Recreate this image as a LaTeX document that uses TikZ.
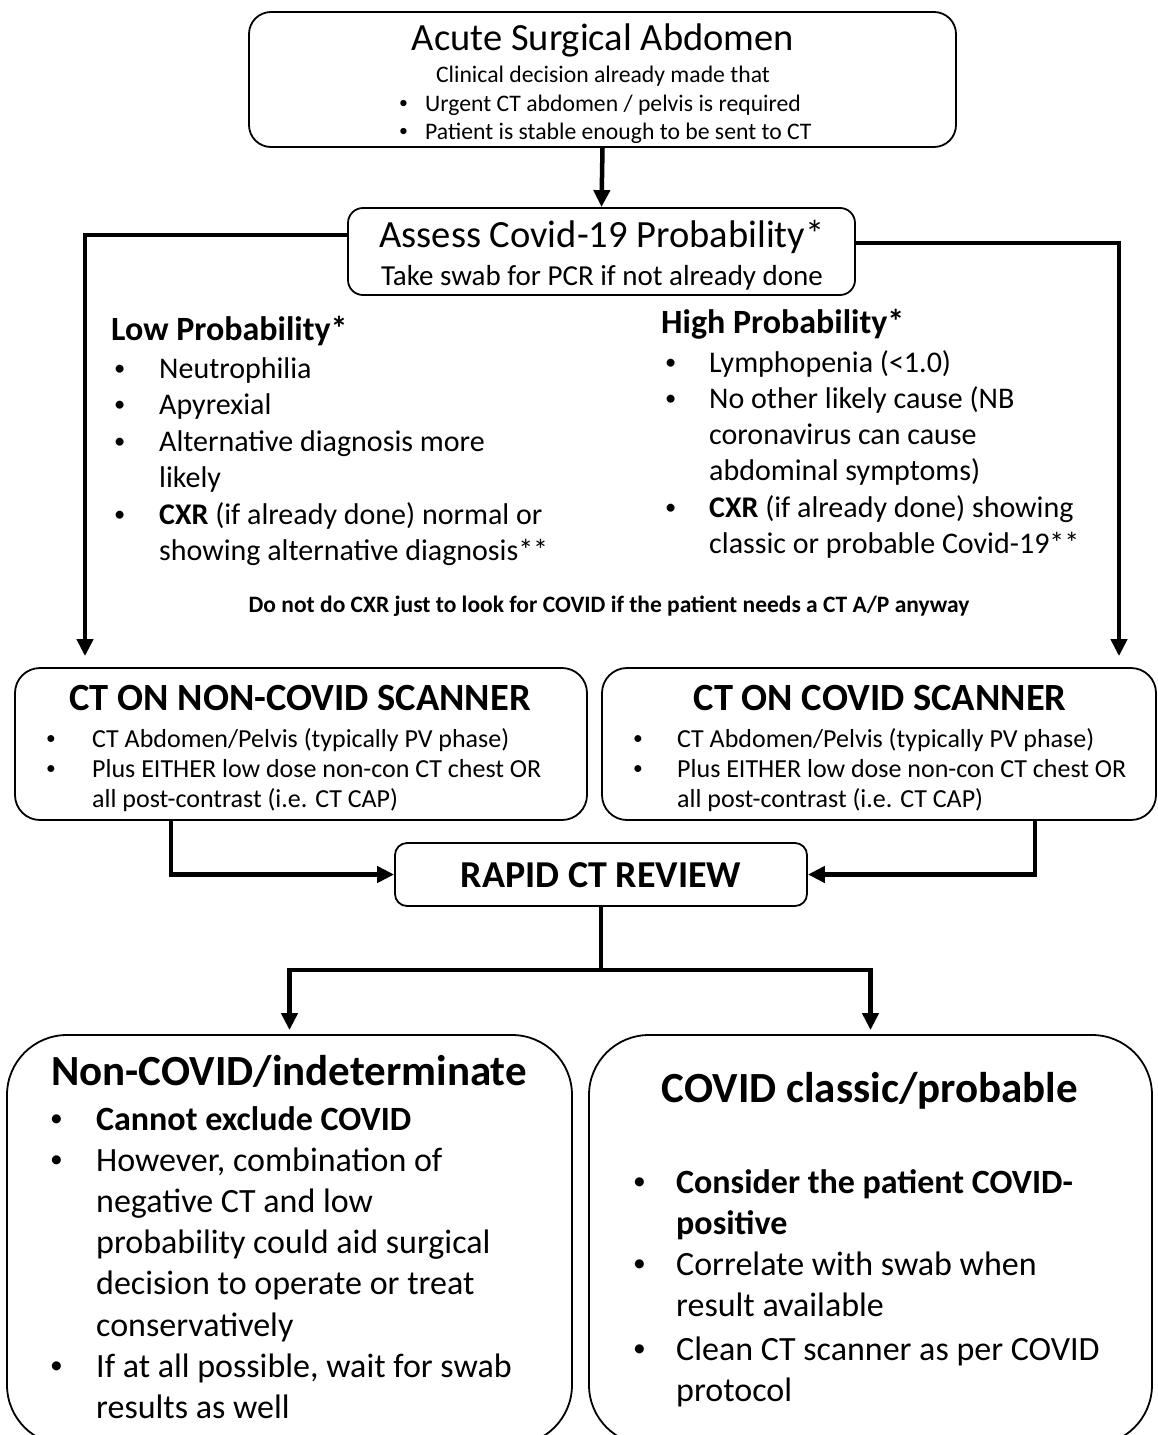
\documentclass[tikz,border=0pt]{standalone}
\usepackage{fontspec}
\setmainfont{Carlito}
\usetikzlibrary{arrows.meta}

\newlength\bulw
\newcommand\bul{\makebox[\bulw][l]{\raisebox{0.1em}{\scalebox{0.75}{\textbullet}}}}
\newcommand\ind{\hspace*{\bulw}}
\newcommand\fs[2]{\fontsize{#1}{#2}\selectfont}

\tikzset{
  card/.style={draw, line width=1.8pt, rounded corners=#1, inner sep=0pt},
  card/.default=20pt,
  flow/.style={line width=4.5pt, -{Triangle[length=17pt,width=16pt]}},
  txt/.style={inner sep=0pt, anchor=base west},
  ctxt/.style={inner sep=0pt, anchor=base},
}

\begin{document}
\begin{tikzpicture}[x=1pt, y=-1pt]
  \fill[white] (0,0) rectangle (1158,1435);
  \useasboundingbox (0,0) rectangle (1158,1435);

  % boxes
  \node[card=22pt, minimum width=707pt, minimum height=135pt] (acute) at (602.5,79.5) {};
  \node[card=15pt, minimum width=507pt, minimum height=87pt] (assess) at (601.5,251.5) {};
  \node[card=25pt, minimum width=572pt, minimum height=152pt] (noncov) at (301,744) {};
  \node[card=25pt, minimum width=554pt, minimum height=152pt] (cov) at (879,744) {};
  \node[card=12pt, minimum width=412pt, minimum height=63pt] (rapid) at (601,874.5) {};
  \node[card=60pt, minimum width=565pt, minimum height=410pt] (neg) at (289.5,1240) {};
  \node[card=60pt, minimum width=563pt, minimum height=410pt] (pos) at (870.5,1240) {};

  % top box text
  \node[ctxt] (acuteT) at (603,50) {\fs{38.5}{46}Acute Surgical Abdomen};
  \node[ctxt] (acuteS) at (603,82) {\fs{23.7}{28}Clinical decision already made that};
  \node[txt] (acuteL) at (399,111) {\fs{23.7}{28}\setlength\bulw{26pt}%
    \begin{tabular}[t]{@{}l@{}}
      \bul Urgent CT abdomen / pelvis is required\\
      \bul Patient is stable enough to be sent to CT
    \end{tabular}};

  \node[ctxt] (assessT) at (602,247) {\fs{38.5}{46}Assess Covid-19 Probability*};
  \node[ctxt] (assessS) at (602,285) {\fs{29}{35}Take swab for PCR if not already done};

  % probability lists
  \node[txt] (lowH) at (111,340) {\fs{34}{41}\bfseries Low Probability*};
  \node[txt] (lowL) at (114,378) {\fs{30}{36.5}\setlength\bulw{45pt}%
    \begin{tabular}[t]{@{}l@{}}
      \bul Neutrophilia\\
      \bul Apyrexial\\
      \bul Alternative diagnosis more\\
      \ind likely\\
      \bul\textbf{CXR} (if already done) normal or\\
      \ind showing alternative diagnosis**
    \end{tabular}};

  \node[txt] (highH) at (661,333) {\fs{34}{41}\bfseries High Probability*};
  \node[txt] (highL) at (665,372) {\fs{30}{36.3}\setlength\bulw{44pt}%
    \begin{tabular}[t]{@{}l@{}}
      \bul Lymphopenia (<1.0)\\
      \bul No other likely cause (NB\\
      \ind coronavirus can cause\\
      \ind abdominal symptoms)\\
      \bul\textbf{CXR} (if already done) showing\\
      \ind classic or probable Covid-19**
    \end{tabular}};

  \node[ctxt] (note) at (609,612) {\fs{23.5}{28}\bfseries Do not do CXR just to look for COVID if the patient needs a CT A/P anyway};

  % scanner boxes
  \node[ctxt] (noncovT) at (300,710) {\fs{38.5}{46}\bfseries CT ON NON-COVID SCANNER};
  \node[txt] (noncovL) at (46,747) {\fs{26}{30}\setlength\bulw{46pt}%
    \begin{tabular}[t]{@{}l@{}}
      \bul CT Abdomen/Pelvis (typically PV phase)\\
      \bul Plus EITHER low dose non-con CT chest OR\\
      \ind all post-contrast (i.e. CT CAP)
    \end{tabular}};
  \node[ctxt] (covT) at (880,710) {\fs{38.5}{46}\bfseries CT ON COVID SCANNER};
  \node[txt] (covL) at (633,747) {\fs{26}{30}\setlength\bulw{44pt}%
    \begin{tabular}[t]{@{}l@{}}
      \bul CT Abdomen/Pelvis (typically PV phase)\\
      \bul Plus EITHER low dose non-con CT chest OR\\
      \ind all post-contrast (i.e. CT CAP)
    \end{tabular}};

  \node[ctxt] (rapidT) at (601,887) {\fs{38}{46}\bfseries RAPID CT REVIEW};

  % outcome boxes
  \node[ctxt] (negT) at (289,1085) {\fs{43}{52}\bfseries Non-COVID/indeterminate};
  \node[txt] (negL) at (50,1130) {\fs{34}{41.2}\setlength\bulw{46pt}%
    \begin{tabular}[t]{@{}l@{}}
      \bul\textbf{Cannot exclude COVID}\\
      \bul However, combination of\\
      \ind negative CT and low\\
      \ind probability could aid surgical\\
      \ind decision to operate or treat\\
      \ind conservatively\\
      \bul If at all possible, wait for swab\\
      \ind results as well
    \end{tabular}};
  \node[ctxt] (posT) at (870,1102) {\fs{43}{52}\bfseries COVID classic/probable};
  \node[txt] (posL) at (633,1193) {\fs{34}{41}\setlength\bulw{43pt}%
    \begin{tabular}[t]{@{}l@{}}
      \bul\textbf{Consider the patient COVID-}\\
      \ind\textbf{positive}\\
      \bul Correlate with swab when\\
      \ind result available\\[3pt]
      \bul Clean CT scanner as per COVID\\
      \ind protocol
    \end{tabular}};

  % connectors
  \draw[flow] (acute.south) -- (assess.north);
  \draw[flow, shorten >=11pt] (assess.west |- 0,235) -| (noncov.north -| 85,0);
  \draw[flow, shorten >=11pt] (assess.east |- 0,243) -| (cov.north -| 1119,0);
  \draw[flow] (noncov.south -| 171,0) |- (rapid.west);
  \draw[flow] (cov.south -| 1035,0) |- (rapid.east);
  \coordinate (fork) at (601,970);
  \draw[line width=4.5pt] (rapid.south) -- (fork);
  \draw[flow, shorten >=4pt] (fork) -| (neg.north);
  \draw[flow, shorten >=4pt] (fork) -| (pos.north);
\end{tikzpicture}
\end{document}
